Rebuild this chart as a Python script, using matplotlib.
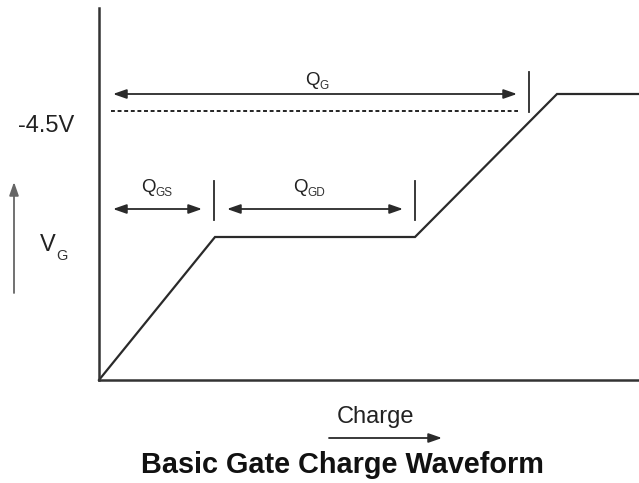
import matplotlib
matplotlib.use('Agg')
import matplotlib.pyplot as plt

# 栅极电荷波形 (单位: 任意)
charge = [0, 11.6, 31.6, 45.8, 54.0]
vg = [0, 14.3, 14.3, 28.6, 28.6]

# -4.5V 虚线
level_y = 26.9
level_x = [1.2, 41.9]

# 区间箭头: (起点, 终点, y, 标签, 下标)
spans_start = [1.4, 1.4, 12.8]
spans_end = [41.8, 10.3, 30.4]
spans_y = [28.6, 17.1, 17.1]
spans_label = ['Q', 'Q', 'Q']
spans_sub = ['G', 'GS', 'GD']
label_x = [20.6, 4.2, 19.4]
label_y = [29.1, 18.4, 18.4]

# 分隔竖线
bars_x = [43.0, 11.5, 31.6]
bars_lo = [26.8, 16.0, 16.0]
bars_hi = [30.8, 19.9, 19.9]

plt.rcParams['font.family'] = ['Liberation Sans', 'DejaVu Sans']

fig = plt.figure(figsize=(6.39, 4.83), dpi=100)
ax = fig.add_axes([99 / 639, 103 / 483, 540 / 639, 372 / 483])
ax.set_xlim(0, 54.0)
ax.set_ylim(0, 37.2)
ax.set_xticks([])
ax.set_yticks([])
for s in ['top', 'right']:
    ax.spines[s].set_visible(False)
for s in ['left', 'bottom']:
    ax.spines[s].set_linewidth(1.8)
    ax.spines[s].set_color('#333333')

line_col = '#2a2a2a'
ax.plot(charge, vg, color=line_col, lw=1.6, solid_joinstyle='miter', clip_on=False)

ax.plot(level_x, [level_y, level_y], color='#222222', lw=1.4, linestyle=(0, (2, 1.4)))

arrow_style = '<|-|>,head_length=0.8,head_width=0.28'
for x0, x1, y, lab, sub, lx, ly in zip(spans_start, spans_end, spans_y, spans_label,
                                         spans_sub, label_x, label_y):
    ax.annotate('', xy=(x1, y), xytext=(x0, y),
                arrowprops=dict(arrowstyle=arrow_style, color=line_col, lw=1.3,
                                shrinkA=0, shrinkB=0, mutation_scale=10))
    ax.text(lx, ly, lab, fontsize=13.5, color='#222222', ha='left', va='bottom')
    ax.annotate(sub, xy=(lx, ly), xytext=(10.5, -2.5), textcoords='offset points',
                fontsize=8.5, color='#333333', ha='left', va='bottom')

for bx, lo, hi in zip(bars_x, bars_lo, bars_hi):
    ax.plot([bx, bx], [lo, hi], color=line_col, lw=1.3)

# 左侧标注
ax.text(-5.3, 25.4, '-4.5V', fontsize=17, color='#222222', ha='center', va='center',
        clip_on=False)
ax.annotate('', xy=(-8.5, 19.8), xytext=(-8.5, 8.7), annotation_clip=False,
            arrowprops=dict(arrowstyle='-|>,head_length=0.8,head_width=0.28',
                            color='#666666', lw=1.3, shrinkA=0, shrinkB=0,
                            mutation_scale=10))
ax.text(-5.9, 13.5, 'V', fontsize=17, color='#222222', ha='left', va='center', clip_on=False)
ax.annotate('G', xy=(-5.9, 13.5), xytext=(12, -8), textcoords='offset points',
            fontsize=10.5, color='#333333', ha='left', va='center', annotation_clip=False)

# 底部标注
ax.text(27.7, -3.7, 'Charge', fontsize=17, color='#222222', ha='center', va='center',
        clip_on=False)
ax.annotate('', xy=(34.3, -5.8), xytext=(23.0, -5.8), annotation_clip=False,
            arrowprops=dict(arrowstyle='-|>,head_length=0.8,head_width=0.28',
                            color=line_col, lw=1.3, shrinkA=0, shrinkB=0,
                            mutation_scale=10))
ax.text(24.3, -8.5, 'Basic Gate Charge Waveform', fontsize=20.8, fontweight='bold',
        color='#111111', ha='center', va='center', clip_on=False)

fig.savefig('out.png', dpi=100)
